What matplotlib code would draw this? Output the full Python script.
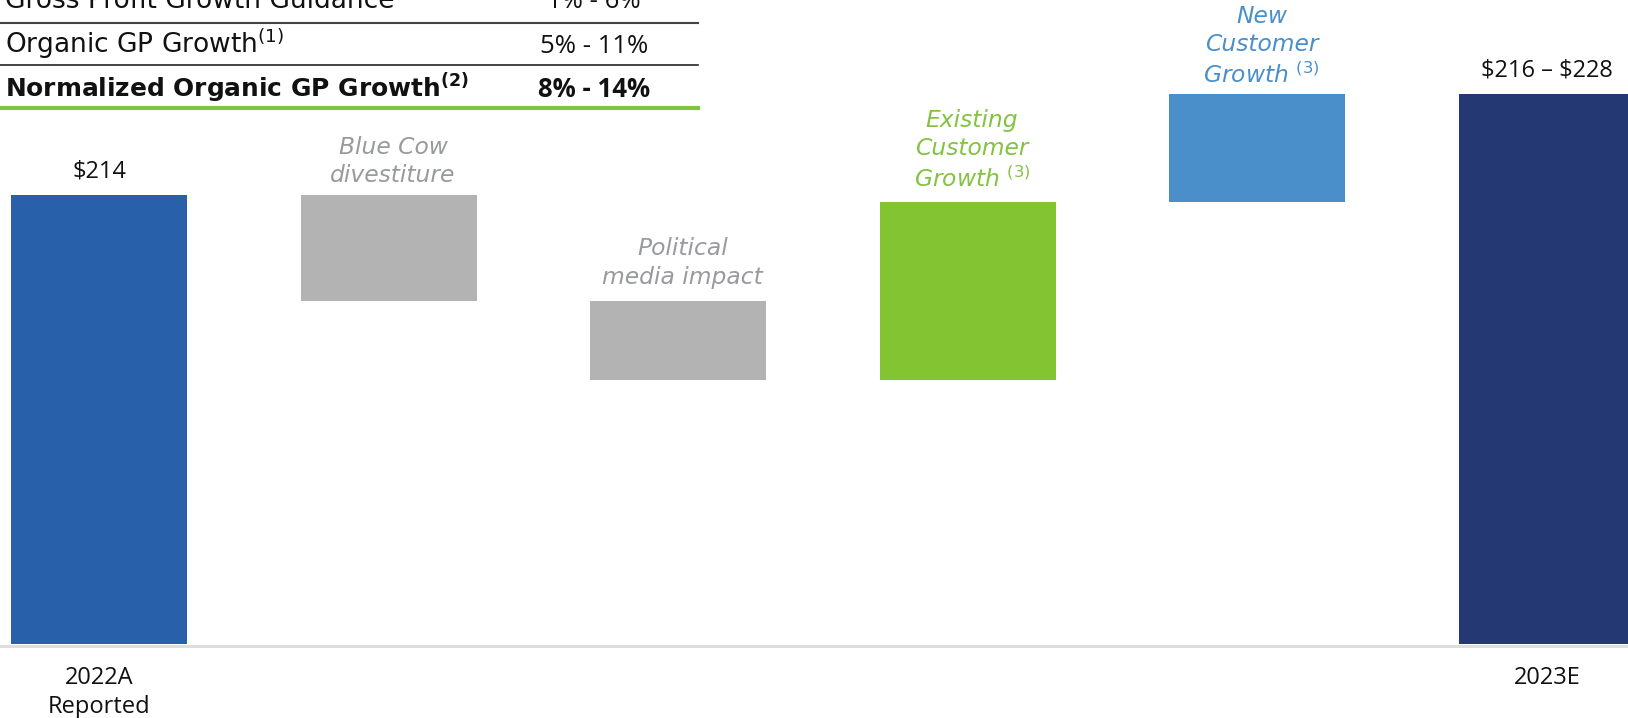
import matplotlib
matplotlib.use('Agg')
import matplotlib.pyplot as plt
import numpy as np

plt.rcParams['font.family'] = ['Open Sans', 'DejaVu Sans']
plt.rcParams['mathtext.fontset'] = 'dejavusans'

# waterfall data (bar heights as drawn, $M)
start_value = 214
steps = [-50.5, -37.5, 84.5, 51.5]
step_labels = ['Blue Cow\ndivestiture', 'Political\nmedia impact',
               'Existing\nCustomer\nGrowth $^{\\mathit{(3)}}$',
               'New\nCustomer\nGrowth $^{\\mathit{(3)}}$']
start_text = '$214'
end_text = '$216 – $228'
xlabels = ['2022A\nReported', '', '', '', '', '2023E']

# guidance table
table_rows = ['Gross Profit Growth Guidance',
              'Organic GP Growth$^{(1)}$',
              'Normalized Organic GP Growth$^{\\mathbf{(2)}}$']
table_vals = ['1% - 6%', '5% - 11%', '8% - 14%']

c_start = '#2960aa'
c_end = '#243874'
c_neg = '#b3b3b3'
c_green = '#82c431'
c_blue = '#4a8fca'
step_colors = [c_neg, c_neg, c_green, c_blue]
label_colors = ['#999a9e', '#999a9e', '#82c341', '#4a8fca']

W, H = 1628, 718
fig = plt.figure(figsize=(W / 100, H / 100), dpi=100)
base_px = 644
ax = fig.add_axes([0, (H - base_px) / H, 1, base_px / H])
px_per_unit = 449 / 214.0
ax.set_ylim(0, base_px / px_per_unit)
spacing = 289.6
ax.set_xlim(-99 / spacing, (W - 99) / spacing)
ax.axis('off')

width = 176 / spacing
cum = np.cumsum([start_value] + steps)
end_value = cum[-1]

ax.bar(0, start_value, width=width, color=c_start, zorder=2)
ax.bar(5, end_value, width=width, color=c_end, zorder=2)
for i, s in enumerate(steps):
    lo = min(cum[i], cum[i + 1])
    ax.bar(i + 1, abs(s), bottom=lo, width=width, color=step_colors[i], zorder=2)

# baseline
ax.axhline(-0.8, color='#dcdcdc', lw=2, clip_on=False, zorder=1)

ax.annotate(start_text, (0, start_value), xytext=(0, 12.5), textcoords='offset points',
            ha='center', va='baseline', fontsize=17, color='#111111', parse_math=False)
ax.annotate(end_text, (5, end_value), xytext=(0, 12.5), textcoords='offset points',
            ha='center', va='baseline', fontsize=17, color='#111111', parse_math=False)

gaps = [9, 12.5, 11, 8]
for i, s in enumerate(steps):
    top = max(cum[i], cum[i + 1])
    ax.annotate(step_labels[i], (i + 1.015, top), xytext=(0, gaps[i]), textcoords='offset points',
                ha='center', va='baseline', fontsize=16.8, style='italic',
                family='DejaVu Sans', color=label_colors[i], linespacing=1.3,
                multialignment='center')

for i, lab in enumerate(xlabels):
    if lab:
        ax.annotate(lab, (i, 0), xytext=(0, -16), textcoords='offset points',
                    ha='center', va='top', fontsize=17, color='#111111', linespacing=1.25)

# guidance table at top-left
row_base = [8, 53, 97]
row_size = [19, 19, 17.9]
for i in range(3):
    wt = 'bold' if i == 2 else 'normal'
    fig.text(5 / W, 1 - row_base[i] / H, table_rows[i], ha='left', va='baseline',
             fontsize=row_size[i], fontweight=wt, family='DejaVu Sans', color='#111111')
    fig.text(594 / W, 1 - row_base[i] / H, table_vals[i], ha='center', va='baseline',
             fontsize=18.5, fontweight=wt, color='#111111')
for yl, col, lw in [(23, '#444444', 1.5), (65, '#222222', 1.2), (107.5, '#82c341', 3)]:
    fig.add_artist(plt.Line2D([0, 698 / W], [1 - yl / H, 1 - yl / H], color=col, lw=lw))

fig.savefig('out.png', dpi=100)
